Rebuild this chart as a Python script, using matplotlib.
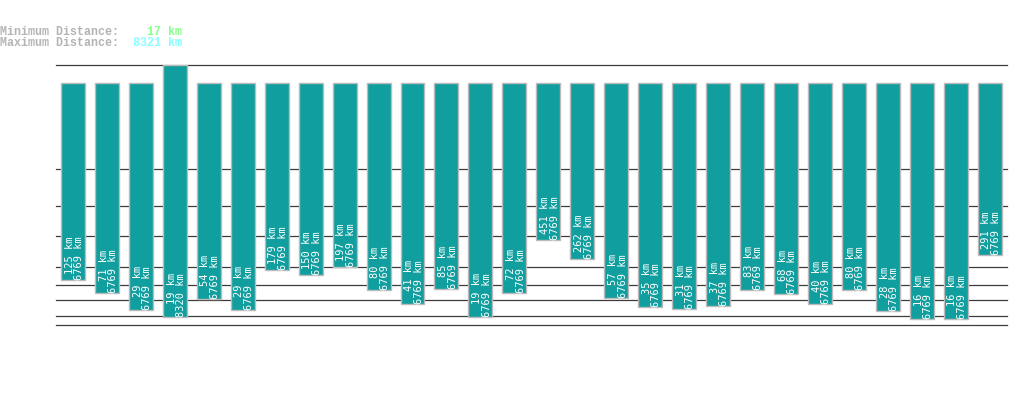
import numpy as np
import matplotlib
matplotlib.use("Agg")
import matplotlib.pyplot as plt
import matplotlib.transforms as mtransforms

# distance (bar bottom) and altitude (bar top) for each bar, in km
distances = [125, 71, 29, 19, 54, 29, 179, 150, 197, 80, 41, 85, 19, 72,
             451, 262, 57, 35, 31, 37, 83, 68, 40, 80, 28, 16, 16, 291]
altitudes = [6769, 6769, 6769, 8320, 6769, 6769, 6769, 6769, 6769, 6769,
             6769, 6769, 6769, 6769, 6769, 6769, 6769, 6769, 6769, 6769,
             6769, 6769, 6769, 6769, 6769, 6769, 6769, 6769]
gridlines = [10, 20, 50, 100, 200, 500, 1000, 2000, 8321]
min_dist = 17
max_dist = 8321

EXP = 0.3


def fwd(v):
    v = np.asarray(v, dtype=float)
    return np.sign(v) * np.abs(v) ** EXP


def inv(t):
    t = np.asarray(t, dtype=float)
    return np.sign(t) * np.abs(t) ** (1 / EXP)


W, H = 1019, 402
fig = plt.figure(figsize=(W / 100, H / 100), dpi=100)
ax = fig.add_axes([56 / W, (H - 326) / H, (1006.7 - 56) / W, 260 / H])
ax.set_yscale('function', functions=(fwd, inv))
ax.set_ylim(10, max_dist)
ax.set_xlim(-0.5, len(distances) - 0.5)

for g in gridlines:
    ax.axhline(g, color='#3c3c3c', lw=0.9, zorder=1, clip_on=False)

x = np.arange(len(distances))
heights = [a - d for a, d in zip(altitudes, distances)]
ax.bar(x, heights, bottom=distances, width=0.705, color='#119e9e',
       edgecolor='#bbbbbb', linewidth=1.0, zorder=2)

offset = mtransforms.offset_copy(ax.transData, fig=fig, x=1.5, y=1, units='dots')
for i in range(len(distances)):
    ax.text(x[i], distances[i], f"{distances[i]} km\n{altitudes[i]} km",
            rotation=90, ha='center', va='bottom', multialignment='right',
            color='white', fontsize=7.5, family='DejaVu Sans Mono',
            linespacing=0.95, transform=offset, zorder=3)

ax.set_axis_off()

mono = 'Liberation Mono'
fig.text(0, 1 - 32 / H, "Minimum Distance:", color='#b4b4b4', fontsize=8.4,
         family=mono, fontweight='bold', va='center', ha='left')
fig.text(182 / W, 1 - 32 / H, f"{min_dist} km", color='#88ff88', fontsize=8.4,
         family=mono, fontweight='bold', va='center', ha='right')
fig.text(0, 1 - 43 / H, "Maximum Distance:", color='#b4b4b4', fontsize=8.4,
         family=mono, fontweight='bold', va='center', ha='left')
fig.text(182 / W, 1 - 43 / H, f"{max_dist} km", color='#88ffff', fontsize=8.4,
         family=mono, fontweight='bold', va='center', ha='right')

fig.savefig('out.png', dpi=100)
